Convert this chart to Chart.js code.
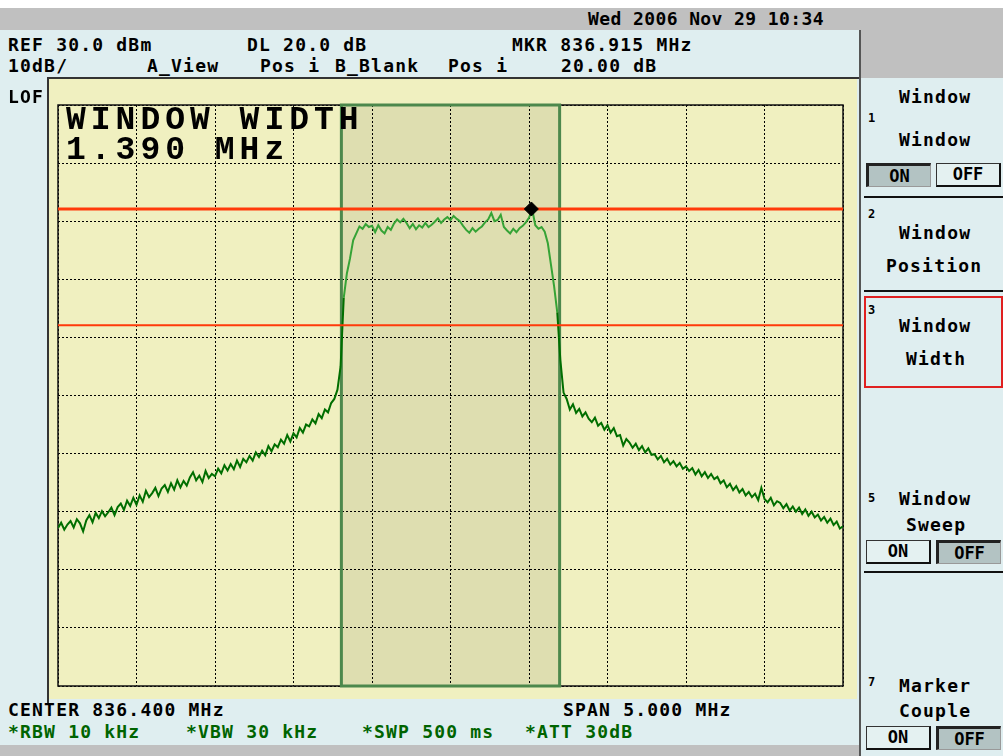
<!DOCTYPE html>
<html>
<head>
<meta charset="utf-8">
<script src="https://cdn.jsdelivr.net/npm/chart.js@4.4.0/dist/chart.umd.min.js"></script>
<style>
  body { margin: 0; background: #fff; }
  #screen { position: relative; width: 1003px; height: 756px; overflow: hidden; background: #dfeef0;
            font-family: "DejaVu Sans Mono", monospace; font-size: 18px; color: #000; }
  .t { position: absolute; white-space: pre; line-height: 20px; letter-spacing: 1.2px; font-weight: bold; }
  .box { position: absolute; box-sizing: border-box; }
  .btn { position: absolute; box-sizing: border-box; height: 24px; width: 65px; text-align: center;
         line-height: 20px; font-size: 17px; font-weight: bold; }
  .on { background: #b3c3c3; border-top: 3px solid #222; border-left: 3px solid #222;
        border-right: 1px solid #999; border-bottom: 1px solid #999; }
  .off { background: #e4f1f1; border: 1px solid #333; border-right: 2px solid #111; border-bottom: 2px solid #111; }
  .sep { position: absolute; left: 864px; width: 139px; height: 2px; background: #111; }
  .num { position: absolute; font-size: 12px; font-weight: bold; line-height: 12px; }
  .big { position: absolute; white-space: pre; font-family: 'Liberation Mono', monospace; font-size: 33px;
         line-height: 34px; letter-spacing: 5px; font-weight: bold; }
</style>
</head>
<body>
<div id="screen">
  <div class="box" style="left:0;top:0;width:1003px;height:8px;background:#fff"></div>
  <div class="box" style="left:0;top:8px;width:1003px;height:22px;background:#c0c0c0"></div>
  <div class="box" style="left:861px;top:8px;width:142px;height:70px;background:#c0c0c0"></div>
  <div class="box" style="left:0;top:745px;width:860px;height:11px;background:#c0c0c0"></div>
  <div class="box" style="left:859px;top:30px;width:2px;height:726px;background:#555"></div>

  <!-- graticule panel -->
  <div class="box" style="left:47px;top:77px;width:812px;height:2px;background:#333"></div>
  <div class="box" style="left:47px;top:77px;width:2px;height:628px;background:#333"></div>
  <div class="box" style="left:49px;top:79px;width:808px;height:620px;background:#f0f0c0"></div>
  <canvas id="trace" width="805" height="601" style="position:absolute;left:48px;top:95px"></canvas>

  <div class="big" style="left:66px;top:104px">WINDOW WIDTH</div>
  <div class="big" style="left:66px;top:134px">1.390 MHz</div>

  <div class="t" style="left:588px;top:9px;letter-spacing:0.4px">Wed 2006 Nov 29 10:34</div>
  <div class="t" style="left:8px;top:35px">REF 30.0 dBm</div>
  <div class="t" style="left:247px;top:35px">DL 20.0 dB</div>
  <div class="t" style="left:512px;top:35px">MKR 836.915 MHz</div>
  <div class="t" style="left:8px;top:56px">10dB/</div>
  <div class="t" style="left:147px;top:56px">A_View</div>
  <div class="t" style="left:260px;top:56px">Pos i</div>
  <div class="t" style="left:335px;top:56px">B_Blank</div>
  <div class="t" style="left:448px;top:56px">Pos i</div>
  <div class="t" style="left:561px;top:56px">20.00 dB</div>
  <div class="t" style="left:8px;top:87px">LOF</div>

  <div class="t" style="left:8px;top:700px">CENTER 836.400 MHz</div>
  <div class="t" style="left:563px;top:700px">SPAN 5.000 MHz</div>
  <div class="t" style="left:8px;top:722px;color:#006400">*RBW 10 kHz</div>
  <div class="t" style="left:186px;top:722px;color:#006400">*VBW 30 kHz</div>
  <div class="t" style="left:362px;top:722px;color:#006400">*SWP 500 ms</div>
  <div class="t" style="left:525px;top:722px;color:#006400">*ATT 30dB</div>

  <!-- soft keys -->
  <div class="t" style="left:899px;top:87px">Window</div>

  <div class="num" style="left:868px;top:112px">1</div>
  <div class="t" style="left:899px;top:130px">Window</div>
  <div class="btn on" style="left:866px;top:163px">ON</div>
  <div class="btn off" style="left:936px;top:163px">OFF</div>
  <div class="sep" style="top:196px"></div>

  <div class="num" style="left:868px;top:208px">2</div>
  <div class="t" style="left:899px;top:223px">Window</div>
  <div class="t" style="left:886px;top:256px">Position</div>
  <div class="sep" style="top:290px"></div>

  <div class="box" style="left:864px;top:296px;width:139px;height:92px;border:2px solid #e02020"></div>
  <div class="num" style="left:868px;top:304px">3</div>
  <div class="t" style="left:899px;top:316px">Window</div>
  <div class="t" style="left:906px;top:349px">Width</div>

  <div class="num" style="left:868px;top:492px">5</div>
  <div class="t" style="left:899px;top:489px">Window</div>
  <div class="t" style="left:906px;top:515px">Sweep</div>
  <div class="btn off" style="left:866px;top:540px">ON</div>
  <div class="btn on" style="left:936px;top:540px">OFF</div>
  <div class="sep" style="top:571px"></div>

  <div class="num" style="left:868px;top:676px">7</div>
  <div class="t" style="left:899px;top:676px">Marker</div>
  <div class="t" style="left:899px;top:701px">Couple</div>
  <div class="btn off" style="left:866px;top:726px">ON</div>
  <div class="btn on" style="left:936px;top:726px">OFF</div>
</div>

<script>
// sweep settings
const CENTER_MHZ = 836.400;
const SPAN_MHZ = 5.000;
const REF_DBM = 30.0;
const DB_PER_DIV = 10;

// trace level (dBm), one value per 0.02 MHz from the left edge
const traceDbm = [
  -42.8, -41.9, -43.1, -42.2, -41.6, -42.7, -41.3, -42.0, -43.4, -41.5,
  -40.6, -41.8, -40.2, -41.1, -39.9, -40.8, -40.1, -39.3, -40.6, -39.2,
  -38.6, -39.7, -38.1, -39.0, -37.6, -38.8, -37.2, -38.3, -36.4, -37.5,
  -36.8, -35.9, -37.3, -36.0, -35.4, -36.6, -35.1, -36.2, -34.6, -35.8,
  -34.7, -35.5, -34.1, -33.2, -34.6, -33.8, -34.9, -33.0, -34.2, -33.5,
  -33.9, -32.6, -33.4, -32.0, -32.9, -31.8, -32.7, -31.2, -32.3, -30.9,
  -31.5, -30.4, -31.2, -29.8, -30.6, -29.5, -30.3, -28.7, -29.6, -28.4,
  -28.9, -27.6, -28.3, -26.8, -27.9, -26.5, -27.2, -25.6, -26.4, -25.0,
  -25.3, -24.1, -24.8, -23.2, -23.9, -22.4, -22.9, -21.3, -20.6, -19.0,
  -15.0,
  -3.2, 1.0, 3.6, 6.7, 7.9, 9.1,
  8.7, 9.5, 9.0,
  9.2, 8.1, 9.3, 8.4, 7.9, 9.0, 8.5,
  9.6, 10.3, 9.8, 10.4, 9.7,
  8.8, 9.5, 8.6, 9.3, 8.9, 9.7, 9.0, 9.4,
  9.9, 10.5, 9.7, 10.3, 10.7,
  10.2, 10.9, 10.4, 10.0, 9.2,
  8.5, 8.0, 8.8, 8.2, 8.7, 9.1,
  9.8, 10.3, 11.4, 10.0, 10.2, 11.1,
  9.0, 8.4, 7.9, 8.7, 8.1, 8.8, 9.2, 9.8,
  10.6, 12.1,
  9.3, 8.7, 9.0, 8.2,
  6.2, 2.5, -1.2, -5.7, -14.0, -19.5,
  -20.6, -22.4, -21.5, -23.0, -22.3, -23.6, -22.9, -24.0,
  -24.6, -23.8, -25.2, -24.7, -25.9, -25.1, -26.4, -25.6, -27.0, -26.8,
  -28.6, -27.5, -28.1, -29.0, -28.3, -29.4, -28.7, -29.8, -29.1, -30.2,
  -30.1, -31.0, -30.4, -31.5, -30.9, -31.9, -31.3, -32.2, -31.6, -32.6,
  -32.2, -33.0, -32.5, -33.6, -32.8, -33.9, -33.2, -34.2, -33.5, -34.4,
  -34.0, -35.1, -34.6, -35.8, -35.2, -36.3, -35.6, -36.7, -36.1, -37.2,
  -36.6, -37.5, -36.9, -38.0, -35.9, -37.8, -38.4, -37.6, -38.9, -38.2,
  -38.5, -39.4, -38.7, -39.8, -39.1, -40.0, -39.3, -40.4, -39.6, -40.7,
  -40.0, -41.0, -40.5, -41.5, -40.9, -41.9, -41.2, -42.3, -41.7, -42.9, -42.5
];

const xGridMHz = [833.9, 834.4, 834.9, 835.4, 835.9, 836.4, 836.9, 837.4, 837.9, 838.4, 838.9];
const yGridDbm = [30, 20, 10, 0, -10, -20, -30, -40, -50, -60, -70];
const displayLinesDbm = [12.1, -7.9];
const windowMHz = [835.705, 837.095];
const markerMHz = 836.915;
const markerDbm = 12.1;

const startMHz = CENTER_MHZ - SPAN_MHZ / 2;
const stopMHz = CENTER_MHZ + SPAN_MHZ / 2;
const bottomDbm = REF_DBM - DB_PER_DIV * 10;

const tracePts = traceDbm.map((v, i) => ({ x: startMHz + i * SPAN_MHZ / (traceDbm.length - 1), y: v }));
const inWindow = x => x >= windowMHz[0] && x <= windowMHz[1];

const screenPlugin = {
  id: 'screen',
  beforeDraw(chart) {
    const { ctx, chartArea: a, scales: { x } } = chart;
    ctx.save();
    ctx.fillStyle = '#dedeb0';
    const x0 = x.getPixelForValue(windowMHz[0]), x1 = x.getPixelForValue(windowMHz[1]);
    ctx.fillRect(x0, a.top, x1 - x0, a.bottom - a.top);
    ctx.restore();
  },
  beforeDatasetsDraw(chart) {
    const { ctx, chartArea: a, scales: { x } } = chart;
    ctx.save();
    ctx.strokeStyle = '#111';
    ctx.lineWidth = 1.5;
    ctx.strokeRect(a.left, a.top, a.right - a.left, a.bottom - a.top);
    const x0 = x.getPixelForValue(windowMHz[0]), x1 = x.getPixelForValue(windowMHz[1]);
    ctx.strokeStyle = '#4c884c';
    ctx.lineWidth = 3;
    ctx.strokeRect(x0, a.top, x1 - x0, a.bottom - a.top);
    ctx.restore();
  }
};

new Chart(document.getElementById('trace'), {
  type: 'line',
  data: {
    datasets: [
      {
        type: 'scatter',
        data: [{ x: markerMHz, y: markerDbm }],
        pointStyle: 'rectRot',
        pointRadius: 7,
        backgroundColor: '#000',
        borderColor: '#000',
        order: 0
      },
      {
        data: [{ x: startMHz, y: displayLinesDbm[0] }, { x: stopMHz, y: displayLinesDbm[0] }],
        borderColor: '#ff3a0a',
        borderWidth: 3,
        pointRadius: 0,
        order: 1
      },
      {
        data: [{ x: startMHz, y: displayLinesDbm[1] }, { x: stopMHz, y: displayLinesDbm[1] }],
        borderColor: '#ff3a0a',
        borderWidth: 2,
        pointRadius: 0,
        order: 1
      },
      {
        data: tracePts,
        borderColor: '#006e00',
        borderWidth: 2,
        pointRadius: 0,
        tension: 0,
        order: 3,
        segment: {
          borderColor: c => (inWindow(c.p0.parsed.x) && inWindow(c.p1.parsed.x)) ? '#36a336' : '#006e00'
        }
      }
    ]
  },
  options: {
    responsive: false,
    animation: false,
    devicePixelRatio: 1,
    layout: { padding: { left: 10, right: 10, top: 10, bottom: 10 } },
    plugins: { legend: { display: false }, tooltip: { enabled: false } },
    scales: {
      x: {
        type: 'linear', min: startMHz, max: stopMHz,
        afterBuildTicks: axis => { axis.ticks = xGridMHz.map(v => ({ value: v })); },
        ticks: { display: false },
        grid: { color: '#000', lineWidth: 1, drawTicks: false },
        border: { display: false, dash: [2, 2] }
      },
      y: {
        type: 'linear', min: bottomDbm, max: REF_DBM,
        afterBuildTicks: axis => { axis.ticks = yGridDbm.map(v => ({ value: v })); },
        ticks: { display: false },
        grid: { color: '#000', lineWidth: 1, drawTicks: false },
        border: { display: false, dash: [2, 2] }
      }
    }
  },
  plugins: [screenPlugin]
});
</script>
</body>
</html>
